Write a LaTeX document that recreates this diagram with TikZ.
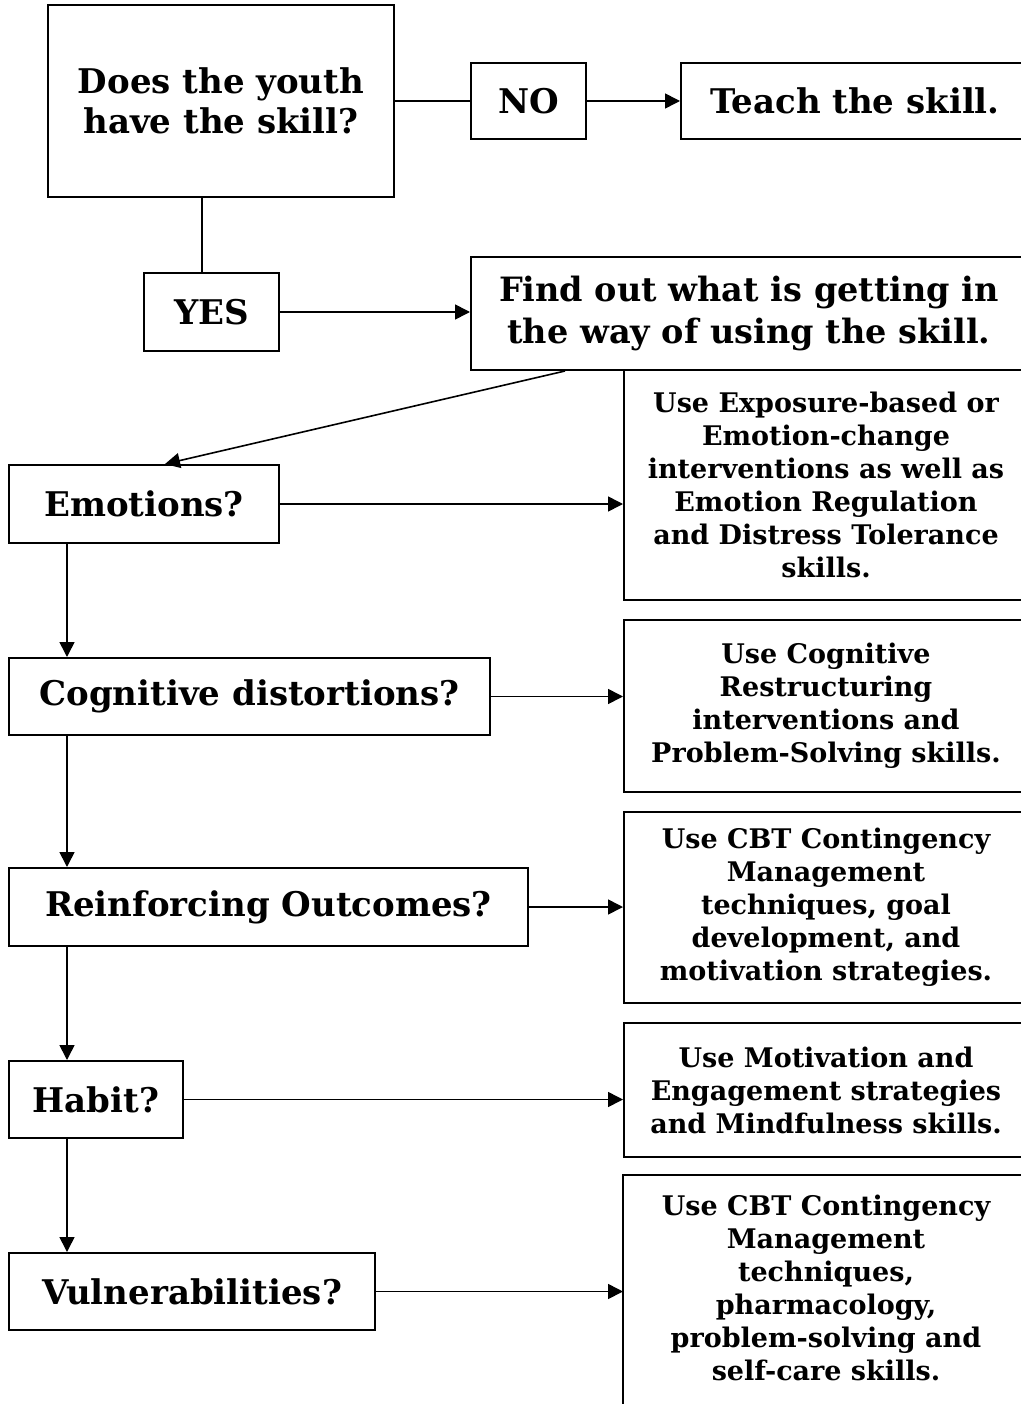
\documentclass[tikz,border=0pt]{standalone}
\usepackage{fontspec}
\setmainfont{DejaVu Serif}
\usetikzlibrary{arrows.meta}

\tikzset{
  qbox/.style={draw, rectangle, line width=2pt, inner sep=0pt, align=center,
    font=\bfseries\fontsize{34}{40}\selectfont},
  tipbox/.style={draw, rectangle, line width=2pt, inner sep=0pt, align=center,
    minimum width=404pt, font=\bfseries\fontsize{27}{33}\selectfont},
}

\begin{document}
\begin{tikzpicture}[x=1pt, y=-1pt, line width=1.6pt,
    >={Triangle[length=15pt,width=15pt]}]
    \useasboundingbox (0,0) rectangle (1020,1404);

    % top: the skill question
    \node [qbox, minimum width=346pt, minimum height=192pt] (youth) at (221,101) {Does the youth\\have the skill?};
    \node [qbox, minimum width=115pt, minimum height=76pt] (no) at (528.5,101) {NO};
    \node [qbox, minimum width=348pt, minimum height=76pt] (teach) at (855,101) {Teach the skill.};
    \node [qbox, minimum width=135pt, minimum height=78pt] (yes) at (211.5,312) {YES};
    \node [qbox, minimum width=556pt, minimum height=113pt, font=\bfseries\fontsize{33.5}{42}\selectfont] (find) at (749,313.5) {Find out what is getting in\\the way of using the skill.};

    % left column: what gets in the way
    \node [qbox, minimum width=270pt, minimum height=78pt] (emo) at (144,504) {Emotions?};
    \node [qbox, minimum width=481pt, minimum height=77pt] (cog) at (249.5,696.5) {Cognitive distortions?};
    \node [qbox, minimum width=519pt, minimum height=78pt] (reinf) at (268.5,907) {Reinforcing Outcomes?};
    \node [qbox, minimum width=174pt, minimum height=77pt] (habit) at (96,1099.5) {Habit?};
    \node [qbox, minimum width=366pt, minimum height=77pt] (vuln) at (192,1291.5) {Vulnerabilities?};

    % right column: what to use
    \node [tipbox, minimum height=230pt] (expo) at (826,485) {Use Exposure-based or\\Emotion-change\\interventions as well as\\Emotion Regulation\\and Distress Tolerance\\skills.};
    \node [tipbox, minimum height=172pt] (restr) at (826,706) {Use Cognitive\\Restructuring\\interventions and\\Problem-Solving skills.};
    \node [tipbox, minimum height=191pt] (cbt) at (826,907.5) {Use CBT Contingency\\Management\\techniques, goal\\development, and\\motivation strategies.};
    \node [tipbox, minimum height=134pt] (motiv) at (826,1090) {Use Motivation and\\Engagement strategies\\and Mindfulness skills.};
    \node [tipbox, draw=none, minimum height=224pt] (care) at (826,1288) {Use CBT Contingency\\Management\\techniques,\\pharmacology,\\problem-solving and\\self-care skills.};

    \coordinate (stem) at (202,0);
    \coordinate (spine) at (67,0);
    \coordinate (floor) at (0,1412);

    % last box runs off the page
    \draw [line width=2pt] (care.north east) -- (care.north west) -- (care.west |- floor);

    \draw (youth.east |- no) -- (no);
    \draw [->] (no) -- (teach);
    \draw (youth.south -| stem) -- (yes.north -| stem);
    \draw [->] (yes) -- (yes.east -| find.west);
    \draw [->] ([xshift=-184pt]find.south) -- ([xshift=21pt]emo.north);

    \draw [->] (emo) -- (emo.east -| expo.west);
    \draw [->] (cog) -- (cog.east -| restr.west);
    \draw [->] (reinf) -- (reinf.east -| cbt.west);
    \draw [->] (habit) -- (habit.east -| motiv.west);
    \draw [->] (vuln) -- (vuln.east -| care.west);

    \draw [->] (emo.south -| spine) -- (cog.north -| spine);
    \draw [->] (cog.south -| spine) -- (reinf.north -| spine);
    \draw [->] (reinf.south -| spine) -- (habit.north -| spine);
    \draw [->] (habit.south -| spine) -- (vuln.north -| spine);
\end{tikzpicture}
\end{document}
